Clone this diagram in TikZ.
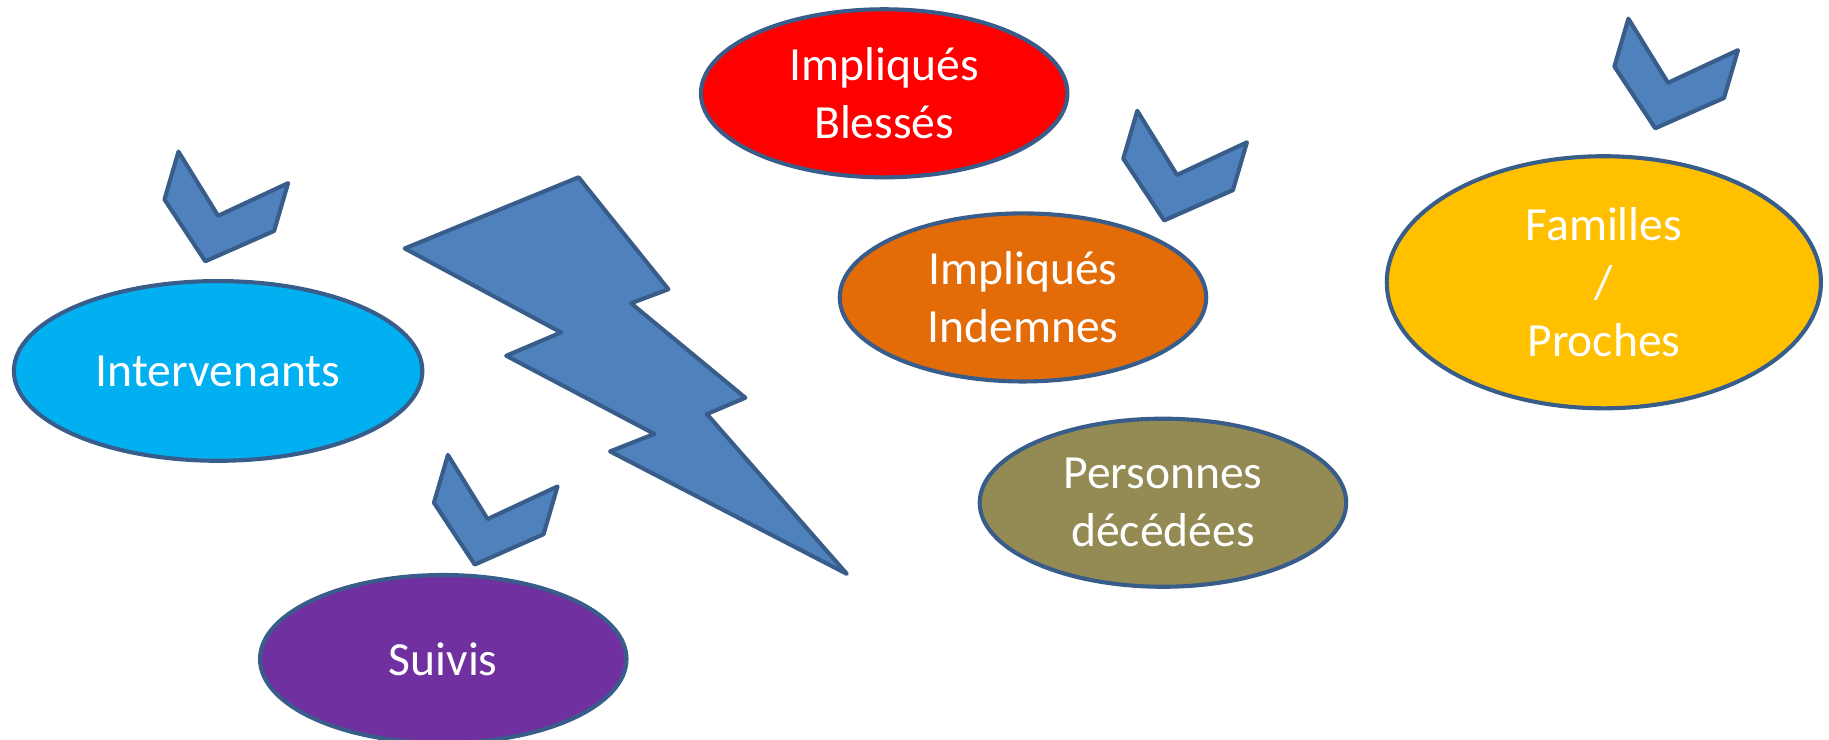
\documentclass[tikz,border=0pt]{standalone}
\usepackage{fontspec}
\setmainfont{Carlito}
\usepackage{xcolor}
\usetikzlibrary{shapes.geometric}
\definecolor{edgeblue}{HTML}{385D8A}
\definecolor{shapeblue}{HTML}{4F81BD}
\definecolor{skyblue}{HTML}{00B0F0}
\definecolor{violet}{HTML}{7030A0}
\definecolor{burnt}{HTML}{E36C09}
\definecolor{olive}{HTML}{948A54}
\definecolor{gold}{HTML}{FFC000}
\tikzset
{
    groupnode/.style = {ellipse, draw=edgeblue, line width=1pt, align=center, text=white, inner sep=0pt, minimum width=3.14cm, minimum height=1.44cm, font=\fontsize{11.6}{14.2}\selectfont},
    bigshape/.style  = {draw=edgeblue, fill=shapeblue, line width=1pt, line join=round}
}

\begin{document}
\begin{tikzpicture}[x=0.01cm, y=-0.01cm]
    \useasboundingbox (0,0) rectangle (1568,634);
    \node [groupnode, fill=skyblue, minimum width=3.5cm, minimum height=1.54cm] (intervenants) at (187,318) {Intervenants};
    \node [groupnode, fill=violet] (suivis) at (380,565) {Suivis};
    \node [groupnode, fill=red] (blesses) at (758,80) {Impliqués \\ Blessés};
    \node [groupnode, fill=burnt] (indemnes) at (877,255) {Impliqués \\ Indemnes};
    \node [groupnode, fill=olive] (decedes) at (997,431) {Personnes \\ décédées};
    \node [groupnode, fill=gold, minimum width=3.72cm, minimum height=2.16cm] (familles) at (1375,242) {Familles \\ / \\ Proches};
    \draw [bigshape] (347,213) -- (496,152) -- (573,248) -- (541,260) -- (639,341) -- (606,355) -- (726,492) -- (523,387) -- (561,372) -- (434,305) -- (481,285) -- cycle;
    \foreach \px/\py in {153/130, 384/390, 975/95, 1396/16}
        \draw [bigshape] (\px,\py) -- ++(34,55) -- ++(60,-28) -- ++(-12,41) -- ++(-59,26) -- ++(-35,-53) -- cycle;
\end{tikzpicture}
\end{document}
